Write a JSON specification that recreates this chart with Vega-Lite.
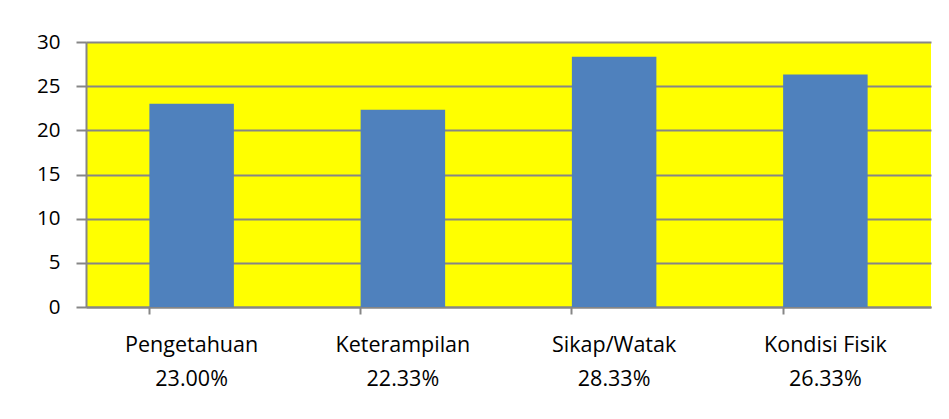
{
  "$schema": "https://vega.github.io/schema/vega-lite/v6.json",
  "width": 845,
  "height": 265,
  "autosize": {"type": "none"},
  "padding": {"left": 86, "top": 42, "right": 18, "bottom": 112},
  "background": "white",
  "data": {
    "values": [
      {"kategori": "Pengetahuan", "persen": "23.00%", "nilai": 23.0},
      {"kategori": "Keterampilan", "persen": "22.33%", "nilai": 22.33},
      {"kategori": "Sikap/Watak", "persen": "28.33%", "nilai": 28.33},
      {"kategori": "Kondisi Fisik", "persen": "26.33%", "nilai": 26.33}
    ]
  },
  "transform": [
    {"calculate": "datum.kategori + '|' + datum.persen", "as": "label"}
  ],
  "mark": {"type": "bar", "color": "#4F81BD"},
  "encoding": {
    "x": {
      "field": "label",
      "type": "nominal",
      "sort": null,
      "title": null,
      "scale": {"paddingInner": 0.6, "paddingOuter": 0.3},
      "axis": {
        "labelExpr": "split(datum.value, '|')",
        "labelAngle": 0,
        "labelFont": "Open Sans",
        "labelFontSize": 21.5,
        "labelLineHeight": 34,
        "labelColor": "#000000",
        "labelPadding": 20,
        "labelBaseline": "top",
        "bandPosition": 0,
        "domainColor": "#868686",
        "domainWidth": 2,
        "tickColor": "#868686",
        "tickWidth": 2,
        "tickSize": 7,
        "grid": false
      }
    },
    "y": {
      "field": "nilai",
      "type": "quantitative",
      "title": null,
      "scale": {"domain": [0, 30], "nice": false},
      "axis": {
        "values": [0, 5, 10, 15, 20, 25, 30],
        "labelFont": "Open Sans",
        "labelFontSize": 20.5,
        "labelColor": "#000000",
        "labelPadding": 16,
        "domainColor": "#868686",
        "domainWidth": 2,
        "tickColor": "#868686",
        "tickWidth": 2,
        "tickSize": 10,
        "gridColor": "#868686",
        "gridWidth": 2
      }
    }
  },
  "config": {
    "view": {"fill": "#FFFF00", "stroke": null}
  }
}
